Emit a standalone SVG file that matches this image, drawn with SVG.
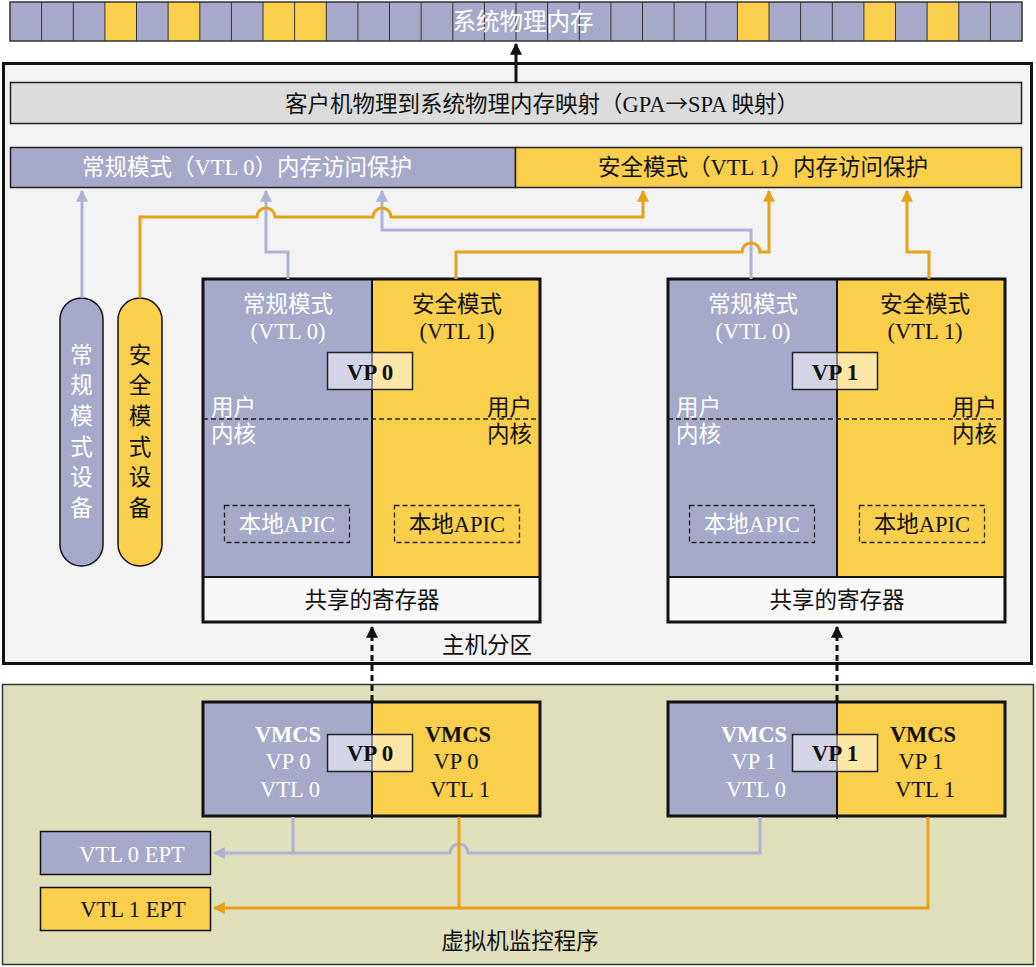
<svg xmlns="http://www.w3.org/2000/svg" width="1036" height="967" viewBox="0 0 1036 967">
<defs>
<style>
text{font-family:"Liberation Serif","Noto Sans CJK SC",serif;font-size:22.5px;}
.w{fill:#ffffff}
.k{fill:#111111}
.c{text-anchor:middle}
.b{font-weight:bold}
.lav{fill:#a7a9cb}
.yel{fill:#f9cf4c}
.ln{fill:none;stroke-width:3}
.lvl{stroke:#b0b2d3}
.orl{stroke:#e6a21a}
.box{stroke:#111;stroke-width:3;fill:none}
.dash{fill:none;stroke:#222;stroke-width:1.3;stroke-dasharray:5,3}
.arr{font-family:"Noto Sans CJK SC",sans-serif}
</style>
<marker id="aL" viewBox="0 0 10 10" refX="9" refY="5" markerWidth="4" markerHeight="4" orient="auto" markerUnits="strokeWidth"><path d="M0,0 L10,5 L0,10 z" fill="#b0b2d3"/></marker>
<marker id="aO" viewBox="0 0 10 10" refX="9" refY="5" markerWidth="4" markerHeight="4" orient="auto" markerUnits="strokeWidth"><path d="M0,0 L10,5 L0,10 z" fill="#e6a21a"/></marker>
<marker id="aK" viewBox="0 0 10 10" refX="9" refY="5" markerWidth="4" markerHeight="4" orient="auto" markerUnits="strokeWidth"><path d="M0,0 L10,5 L0,10 z" fill="#111"/></marker>
</defs>
<rect width="1036" height="967" fill="#ffffff"/>

<g id="system-memory">
<rect x="10" y="2" width="1012" height="39" class="lav"/>
<rect x="104.9" y="2" width="31.6" height="39" class="yel"/>
<rect x="168.1" y="2" width="31.6" height="39" class="yel"/>
<rect x="263" y="2" width="31.6" height="39" class="yel"/>
<rect x="294.6" y="2" width="31.6" height="39" class="yel"/>
<rect x="737.4" y="2" width="31.6" height="39" class="yel"/>
<rect x="863.9" y="2" width="31.6" height="39" class="yel"/>
<rect x="927.1" y="2" width="31.6" height="39" class="yel"/>
<path d="M41.6,2V41M73.3,2V41M104.9,2V41M136.5,2V41M168.1,2V41M199.8,2V41M231.4,2V41M263,2V41M294.6,2V41M326.3,2V41M357.9,2V41M389.5,2V41M421.1,2V41M452.8,2V41M484.4,2V41M516,2V41M547.6,2V41M579.3,2V41M610.9,2V41M642.5,2V41M674.1,2V41M705.8,2V41M737.4,2V41M769,2V41M800.6,2V41M832.3,2V41M863.9,2V41M895.5,2V41M927.1,2V41M958.8,2V41M990.4,2V41" stroke="#333" stroke-width="1"/>
<rect x="10" y="2" width="1012" height="39" fill="none" stroke="#333" stroke-width="1.5"/>
<text x="523" y="30" class="w c" style="font-size:23.5px">系统物理内存</text>
</g>

<g id="host-partition">
<rect x="3.5" y="63.5" width="1028" height="600" fill="#f3f3f3" stroke="#111" stroke-width="3"/>
<text x="487" y="653" class="k c">主机分区</text>
</g>

<g id="hypervisor">
<rect x="2.5" y="684.5" width="1031" height="280" fill="#dfe0bb" stroke="#333" stroke-width="1.5"/>
<text x="520" y="949" class="k c">虚拟机监控程序</text>
</g>

<g id="gpa-spa">
<rect x="10.5" y="82.5" width="1011" height="41" fill="#dcdcdc" stroke="#222" stroke-width="1.5"/>
<text x="542" y="112" class="k c">客户机物理到系统物理内存映射（GPA<tspan class="arr">→</tspan>SPA 映射）</text>
</g>

<g id="vtl0-protection">
<rect x="10.5" y="147.5" width="505" height="40" class="lav" stroke="#222" stroke-width="1.5"/>
<text x="247" y="175" class="w c">常规模式（VTL 0）内存访问保护</text>
</g>
<g id="vtl1-protection">
<rect x="515.5" y="147.5" width="506" height="40" class="yel" stroke="#222" stroke-width="1.5"/>
<text x="763" y="175" class="k c">安全模式（VTL 1）内存访问保护</text>
</g>

<g id="normal-device">
<rect x="60" y="298" width="43" height="268" rx="21.5" class="lav" stroke="#111" stroke-width="1.5"/>
<text class="w c"><tspan x="81.5" y="363">常</tspan><tspan x="81.5" y="393">规</tspan><tspan x="81.5" y="424">模</tspan><tspan x="81.5" y="455">式</tspan><tspan x="81.5" y="485">设</tspan><tspan x="81.5" y="516">备</tspan></text>
</g>
<g id="secure-device">
<rect x="118" y="298" width="44" height="268" rx="22" class="yel" stroke="#111" stroke-width="1.5"/>
<text class="k c"><tspan x="140" y="363">安</tspan><tspan x="140" y="393">全</tspan><tspan x="140" y="424">模</tspan><tspan x="140" y="455">式</tspan><tspan x="140" y="485">设</tspan><tspan x="140" y="516">备</tspan></text>
</g>

<g id="vp0-host">
<rect x="203" y="279" width="169" height="298" class="lav"/>
<rect x="372" y="279" width="168" height="298" class="yel"/>
<rect x="203" y="577" width="337" height="45" fill="#f8f8f8"/>
<line x1="203" y1="577" x2="540" y2="577" stroke="#111" stroke-width="2"/>
<line x1="372" y1="279" x2="372" y2="577" stroke="#111" stroke-width="2"/>
<line x1="203" y1="419" x2="540" y2="419" class="dash"/>
<rect x="203" y="279" width="337" height="343" class="box"/>
<text x="288" y="312" class="w c">常规模式</text>
<text x="288" y="339" class="w c">(VTL 0)</text>
<text x="457" y="312" class="k c">安全模式</text>
<text x="457" y="339" class="k c">(VTL 1)</text>
<rect x="327.5" y="352.5" width="85" height="37" fill="#ffffff" fill-opacity="0.5" stroke="#222" stroke-width="1.5"/>
<text x="370" y="380" class="k c b" style="font-size:23px">VP 0</text>
<text x="211" y="415" class="w">用户</text>
<text x="211" y="442" class="w">内核</text>
<text x="532" y="415" class="k" text-anchor="end">用户</text>
<text x="532" y="442" class="k" text-anchor="end">内核</text>
<rect x="224.5" y="505.5" width="125" height="37" class="dash"/>
<rect x="394.5" y="505.5" width="125" height="37" class="dash"/>
<text x="287" y="532" class="w c">本地APIC</text>
<text x="457" y="532" class="k c">本地APIC</text>
<text x="372" y="608" class="k c">共享的寄存器</text>
</g>

<g id="vp1-host">
<rect x="668" y="279" width="169" height="298" class="lav"/>
<rect x="837" y="279" width="168" height="298" class="yel"/>
<rect x="668" y="577" width="337" height="45" fill="#f8f8f8"/>
<line x1="668" y1="577" x2="1005" y2="577" stroke="#111" stroke-width="2"/>
<line x1="837" y1="279" x2="837" y2="577" stroke="#111" stroke-width="2"/>
<line x1="668" y1="419" x2="1005" y2="419" class="dash"/>
<rect x="668" y="279" width="337" height="343" class="box"/>
<text x="753" y="312" class="w c">常规模式</text>
<text x="753" y="339" class="w c">(VTL 0)</text>
<text x="925" y="312" class="k c">安全模式</text>
<text x="925" y="339" class="k c">(VTL 1)</text>
<rect x="792.5" y="352.5" width="85" height="37" fill="#ffffff" fill-opacity="0.5" stroke="#222" stroke-width="1.5"/>
<text x="835" y="380" class="k c b" style="font-size:23px">VP 1</text>
<text x="676" y="415" class="w">用户</text>
<text x="676" y="442" class="w">内核</text>
<text x="997" y="415" class="k" text-anchor="end">用户</text>
<text x="997" y="442" class="k" text-anchor="end">内核</text>
<rect x="689.5" y="505.5" width="125" height="37" class="dash"/>
<rect x="859.5" y="505.5" width="125" height="37" class="dash"/>
<text x="752" y="532" class="w c">本地APIC</text>
<text x="922" y="532" class="k c">本地APIC</text>
<text x="837" y="608" class="k c">共享的寄存器</text>
</g>

<g id="vmcs-vp0">
<rect x="203" y="702" width="169" height="114" class="lav"/>
<rect x="372" y="702" width="168" height="114" class="yel"/>
<line x1="372" y1="702" x2="372" y2="819" stroke="#111" stroke-width="2"/>
<rect x="203" y="702" width="337" height="114" class="box"/>
<rect x="327.5" y="734.5" width="85" height="37" fill="#ffffff" fill-opacity="0.5" stroke="#222" stroke-width="1.5"/>
<text x="288" y="742" class="w c b">VMCS</text>
<text x="288" y="769" class="w c">VP 0</text>
<text x="290" y="797" class="w c">VTL 0</text>
<text x="458" y="742" class="k c b">VMCS</text>
<text x="456" y="769" class="k c">VP 0</text>
<text x="460" y="797" class="k c">VTL 1</text>
<text x="370" y="761" class="k c b" style="font-size:23px">VP 0</text>
</g>

<g id="vmcs-vp1">
<rect x="668" y="702" width="169" height="114" class="lav"/>
<rect x="837" y="702" width="168" height="114" class="yel"/>
<line x1="837" y1="702" x2="837" y2="819" stroke="#111" stroke-width="2"/>
<rect x="668" y="702" width="337" height="114" class="box"/>
<rect x="792.5" y="734.5" width="85" height="37" fill="#ffffff" fill-opacity="0.5" stroke="#222" stroke-width="1.5"/>
<text x="754" y="742" class="w c b">VMCS</text>
<text x="754" y="769" class="w c">VP 1</text>
<text x="756" y="797" class="w c">VTL 0</text>
<text x="923" y="742" class="k c b">VMCS</text>
<text x="921" y="769" class="k c">VP 1</text>
<text x="925" y="797" class="k c">VTL 1</text>
<text x="835" y="761" class="k c b" style="font-size:23px">VP 1</text>
</g>

<g id="vtl0-ept">
<rect x="40.5" y="831.5" width="170" height="43" class="lav" stroke="#111" stroke-width="1.5"/>
<text x="132" y="862" class="w c">VTL 0 EPT</text>
</g>
<g id="vtl1-ept">
<rect x="40.5" y="887.5" width="170" height="43" class="yel" stroke="#111" stroke-width="1.5"/>
<text x="133" y="917" class="k c">VTL 1 EPT</text>
</g>

<g id="connectors">
<path d="M516,82 V44" stroke="#111" stroke-width="3" fill="none" marker-end="url(#aK)"/>
<path d="M82,298 V191" class="ln lvl" marker-end="url(#aL)"/>
<path d="M288,279 V252 H266 V191" class="ln lvl" marker-end="url(#aL)"/>
<path d="M751,279 V230 H382 V191" class="ln lvl" marker-end="url(#aL)"/>
<path d="M140,298 V217 H257 A9,9 0 0 1 275,217 H373 A9,9 0 0 1 391,217 H643 V191" class="ln orl" marker-end="url(#aO)"/>
<path d="M456,279 V252 H742 A9,9 0 0 1 760,252 H769 V191" class="ln orl" marker-end="url(#aO)"/>
<path d="M929,279 V252 H907 V191" class="ln orl" marker-end="url(#aO)"/>
<path d="M372,701 V627" stroke="#111" stroke-width="3" stroke-dasharray="6,4" fill="none" marker-end="url(#aK)"/>
<path d="M837,701 V627" stroke="#111" stroke-width="3" stroke-dasharray="6,4" fill="none" marker-end="url(#aK)"/>
<path d="M293,817 V853 H214" class="ln lvl" marker-end="url(#aL)"/>
<path d="M760,817 V853 H468 A9,9 0 0 0 450,853 H293" class="ln lvl"/>
<path d="M459,817 V908 H214" class="ln orl" marker-end="url(#aO)"/>
<path d="M928,817 V908 H459" class="ln orl"/>
</g>
</svg>
